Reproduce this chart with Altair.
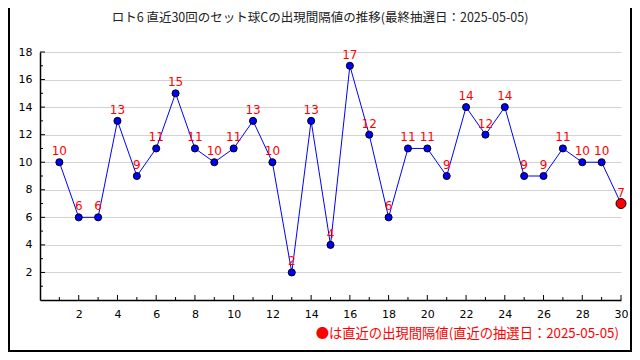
import altair as alt
import pandas as pd

draws = list(range(1, 31))
values = [10, 6, 6, 13, 9, 11, 15, 11, 10, 11, 13, 10, 2, 13, 4, 17, 12, 6, 11, 11,
          9, 14, 12, 14, 9, 9, 11, 10, 10, 7]
y_labels = [2, 4, 6, 8, 10, 12, 14, 16, 18]
x_labels = [2, 4, 6, 8, 10, 12, 14, 16, 18, 20, 22, 24, 26, 28, 30]
title_text = "ロト6 直近30回のセット球Cの出現間隔値の推移(最終抽選日：2025-05-05)"
note_text = "●は直近の出現間隔値(直近の抽選日：2025-05-05)"

W, H = 581, 248

df = pd.DataFrame({"draw": draws, "value": values})
df["last"] = df["draw"] == draws[-1]

xs = alt.Scale(domain=[0, 30], nice=False, zero=False)
ys = alt.Scale(domain=[0, 18], nice=False)

x_axis = alt.Axis(values=x_labels, grid=False, tickSize=0, title=None,
                  labelFontSize=11, labelFont="DejaVu Sans", labelColor="#000",
                  labelPadding=8, domainColor="#000", domainWidth=1.5,
                  labelFlush=False, labelOverlap=False)
y_axis = alt.Axis(values=y_labels, grid=True, gridColor="#d3d3d3", tickSize=0,
                  title=None, labelFontSize=11, labelFont="DejaVu Sans",
                  labelColor="#000", labelPadding=8, domainColor="#000",
                  domainWidth=1.5, labelFlush=False, labelOverlap=False)

X = alt.X("draw:Q", scale=xs, axis=x_axis)
Y = alt.Y("value:Q", scale=ys, axis=y_axis)

base = alt.Chart(df)

line = base.mark_line(color="#0000ff", strokeWidth=1).encode(x=X, y=Y)

pts = base.transform_filter("!datum.last").mark_point(
    filled=True, fill="#0000ff", stroke="#000", strokeWidth=1, size=50, opacity=1
).encode(x=X, y=Y)

last_pt = base.transform_filter("datum.last").mark_point(
    filled=True, fill="#ff0000", stroke="#000", strokeWidth=1, size=100, opacity=1
).encode(x=X, y=Y)

labels = base.mark_text(color="#ff0000", font="DejaVu Sans", fontSize=12,
                        baseline="middle", dy=-11).encode(x=X, y=Y, text="value:Q")

# inward ticks
ymaj = pd.DataFrame({"value": y_labels})
ymin = pd.DataFrame({"value": [v for v in range(1, 19) if v % 2 == 1]})
xmaj = pd.DataFrame({"draw": x_labels})
xmin = pd.DataFrame({"draw": [v for v in range(1, 31) if v % 2 == 1]})

ytick_major = alt.Chart(ymaj).mark_rule(color="#000", strokeWidth=1).encode(
    y=Y, x=alt.value(0), x2=alt.value(5))
ytick_minor = alt.Chart(ymin).mark_rule(color="#000", strokeWidth=1).encode(
    y=Y, x=alt.value(0), x2=alt.value(3))
xtick_major = alt.Chart(xmaj).mark_rule(color="#000", strokeWidth=1).encode(
    x=X, y=alt.value(H), y2=alt.value(H - 5))
xtick_minor = alt.Chart(xmin).mark_rule(color="#000", strokeWidth=1).encode(
    x=X, y=alt.value(H), y2=alt.value(H - 3))

title = alt.Chart(pd.DataFrame({"t": [title_text]})).mark_text(
    font="Noto Sans CJK JP", fontSize=12.5, color="#222", align="center", baseline="middle"
).encode(x=alt.value(280), y=alt.value(-34), text="t:N")

note = alt.Chart(pd.DataFrame({"t": [note_text]})).mark_text(
    font="Noto Sans CJK JP", fontSize=13.3, color="#ff0000", align="right", baseline="middle"
).encode(x=alt.value(579), y=alt.value(282), text="t:N")

frame_l = alt.Chart(pd.DataFrame({"a": [0]})).mark_rule(color="#000", strokeWidth=2).encode(
    x=alt.value(-31), y=alt.value(-44), y2=alt.value(300))
frame_r = alt.Chart(pd.DataFrame({"a": [0]})).mark_rule(color="#000", strokeWidth=2).encode(
    x=alt.value(591), y=alt.value(-44), y2=alt.value(300))
frame_b = alt.Chart(pd.DataFrame({"a": [0]})).mark_rule(color="#000", strokeWidth=2).encode(
    y=alt.value(299), x=alt.value(-32), x2=alt.value(592))

chart = alt.layer(
    line, labels, pts, last_pt, ytick_major, ytick_minor, xtick_major, xtick_minor,
    title, note, frame_l, frame_r, frame_b
).properties(
    width=W, height=H,
    autosize=alt.AutoSizeParams(type="none"),
    padding={"left": 32, "top": 44, "right": 11, "bottom": 52},
    background="#ffffff",
).configure_view(stroke=None)

chart.save("out.html", embed_options={"renderer": "svg", "actions": False})
